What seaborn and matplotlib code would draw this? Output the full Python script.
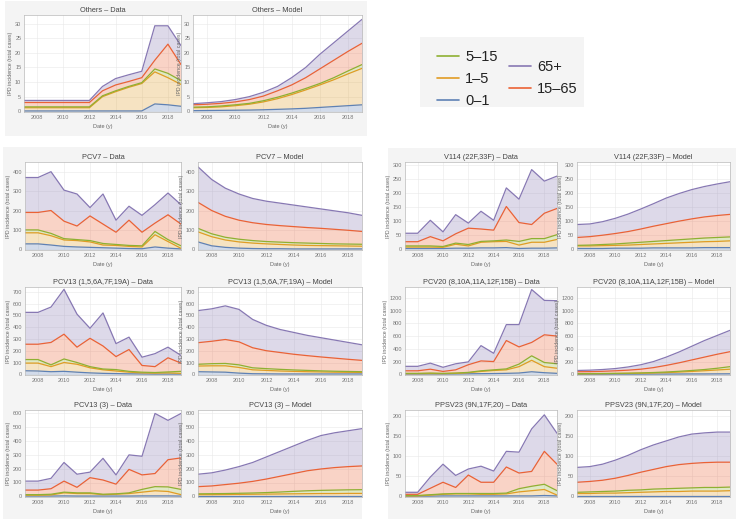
"""
IPD incidence by age group: data vs model, per serotype group.
Stacked (cumulative) lines per age group with light fills between them.
"""
import numpy as np
import pandas as pd
import matplotlib.pyplot as plt
import seaborn as sns
from matplotlib.patches import Rectangle
from matplotlib.lines import Line2D

sns.set_theme(style="whitegrid")
plt.rcParams['font.family'] = ['Liberation Sans', 'DejaVu Sans']

# --- data (cumulative levels of each age-group line, 2007..2019) ---
YEARS = list(range(2007, 2020))
AGE_GROUPS = ["0–1", "1–5", "5–15", "15–65", "65+"]
COLORS = ["#5E81B5", "#E19C24", "#8FB032", "#EB6235", "#8778B3"]

others_data = {
    "0–1": [0.1, 0.1, 0.1, 0.1, 0.1, 0.1, 0.1, 0.1, 0.1, 0.1, 2.5, 2.2, 1.7],
    "1–5": [1.2, 1.2, 1.2, 1.2, 1.2, 1.2, 5.0, 6.7, 8.2, 9.5, 13.5, 11.5, 9.2],
    "5–15": [1.5, 1.5, 1.5, 1.5, 1.5, 1.5, 5.3, 7.0, 8.5, 9.8, 14.5, 13.0, 10.5],
    "15–65": [3.0, 3.0, 3.0, 3.0, 3.0, 3.0, 7.0, 9.0, 10.2, 11.5, 17.5, 23.0, 16.0],
    "65+": [3.7, 3.7, 3.7, 3.7, 3.7, 3.7, 8.5, 11.2, 12.5, 13.7, 29.3, 29.3, 22.5],
}
others_model = {
    "0–1": [0.2, 0.25, 0.3, 0.35, 0.4, 0.5, 0.65, 0.8, 1.0, 1.3, 1.6, 1.9, 2.2],
    "1–5": [1.2, 1.3, 1.5, 1.9, 2.4, 3.2, 4.3, 5.7, 7.3, 9.0, 10.8, 12.8, 14.7],
    "5–15": [1.4, 1.5, 1.8, 2.2, 2.7, 3.6, 4.8, 6.2, 7.8, 9.5, 11.5, 13.8, 16.0],
    "15–65": [2.2, 2.4, 2.7, 3.2, 4.0, 5.2, 7.0, 9.0, 11.5, 14.5, 17.5, 20.5, 23.3],
    "65+": [2.6, 2.9, 3.3, 4.0, 5.0, 6.5, 8.5, 11.5, 15.0, 19.5, 23.5, 27.5, 31.5],
}
pcv7_data = {
    "0–1": [28, 28, 22, 15, 12, 10, 8, 6, 4, 3, 12, 6, 2],
    "1–5": [85, 85, 70, 48, 45, 38, 22, 20, 15, 12, 75, 40, 5],
    "5–15": [100, 100, 82, 55, 50, 45, 30, 25, 20, 18, 92, 50, 18],
    "15–65": [190, 190, 200, 145, 120, 172, 130, 88, 150, 88, 135, 178, 130],
    "65+": [370, 370, 400, 305, 285, 215, 285, 150, 222, 175, 230, 290, 230],
}
pcv7_model = {
    "0–1": [38, 18, 10, 6, 4, 3, 3, 2, 2, 2, 2, 2, 2],
    "1–5": [90, 65, 48, 38, 32, 28, 25, 22, 20, 19, 18, 17, 16],
    "5–15": [108, 80, 62, 52, 45, 40, 37, 34, 32, 30, 28, 27, 26],
    "15–65": [242, 200, 170, 150, 137, 128, 122, 117, 112, 108, 103, 98, 92],
    "65+": [425, 360, 315, 285, 262, 248, 238, 228, 218, 208, 198, 188, 175],
}
pcv13a_data = {
    "0–1": [30, 28, 22, 25, 18, 12, 8, 6, 4, 3, 2, 2, 2],
    "1–5": [95, 95, 65, 100, 85, 55, 38, 28, 18, 12, 10, 12, 8],
    "5–15": [125, 125, 80, 130, 100, 65, 45, 40, 25, 18, 15, 20, 25],
    "15–65": [255, 255, 270, 340, 230, 305, 240, 150, 210, 75, 65, 140, 95],
    "65+": [525, 525, 570, 720, 510, 390, 520, 260, 315, 145, 175, 230, 160],
}
pcv13a_model = {
    "0–1": [22, 20, 18, 10, 5, 4, 3, 3, 3, 3, 3, 3, 3],
    "1–5": [70, 72, 72, 58, 38, 33, 28, 25, 22, 20, 18, 17, 16],
    "5–15": [85, 90, 92, 80, 55, 48, 42, 37, 33, 29, 26, 24, 22],
    "15–65": [268, 280, 295, 275, 225, 200, 185, 170, 158, 147, 137, 127, 118],
    "65+": [540, 555, 580, 550, 465, 415, 380, 355, 330, 310, 290, 270, 250],
}
pcv13b_data = {
    "0–1": [2, 2, 2, 3, 2, 2, 2, 2, 2, 3, 3, 3, 2],
    "1–5": [8, 8, 10, 25, 20, 20, 12, 15, 20, 30, 40, 35, 12],
    "5–15": [12, 12, 15, 30, 25, 25, 15, 18, 25, 50, 70, 68, 50],
    "15–65": [45, 45, 55, 110, 65, 135, 118, 88, 195, 155, 165, 265, 278],
    "65+": [110, 110, 130, 245, 160, 175, 275, 155, 300, 290, 600, 550, 600],
}
pcv13b_model = {
    "0–1": [3, 3, 3, 3, 3, 3, 3, 3, 3, 3, 3, 3, 3],
    "1–5": [12, 12, 13, 14, 15, 16, 17, 18, 19, 20, 20, 21, 21],
    "5–15": [18, 19, 20, 22, 24, 27, 31, 36, 40, 43, 45, 47, 48],
    "15–65": [70, 75, 85, 95, 108, 125, 145, 165, 185, 198, 208, 215, 220],
    "65+": [160, 170, 190, 215, 245, 285, 325, 365, 405, 440, 460, 475, 490],
}
v114_data = {
    "0–1": [3, 3, 3, 3, 4, 4, 5, 5, 6, 3, 4, 4, 5],
    "1–5": [8, 8, 8, 7, 18, 12, 25, 27, 28, 15, 25, 25, 35],
    "5–15": [12, 12, 12, 10, 22, 17, 28, 30, 33, 28, 38, 38, 52],
    "15–65": [27, 27, 45, 30, 55, 75, 72, 68, 152, 95, 88, 128, 145],
    "65+": [57, 57, 103, 62, 123, 93, 135, 103, 218, 178, 283, 242, 260],
}
v114_model = {
    "0–1": [3, 3, 3, 4, 4, 4, 5, 5, 5, 5, 6, 6, 6],
    "1–5": [12, 12, 13, 14, 15, 17, 19, 21, 23, 25, 27, 28, 30],
    "5–15": [14, 15, 17, 19, 22, 25, 28, 31, 34, 37, 40, 42, 44],
    "15–65": [42, 45, 50, 56, 63, 72, 82, 91, 100, 108, 115, 120, 124],
    "65+": [88, 90, 98, 110, 125, 143, 162, 182, 198, 212, 223, 232, 240],
}
pcv20_data = {
    "0–1": [5, 5, 6, 5, 6, 8, 10, 12, 15, 20, 40, 25, 15],
    "1–5": [10, 10, 12, 10, 15, 25, 45, 60, 70, 120, 220, 120, 95],
    "5–15": [15, 15, 20, 15, 20, 30, 55, 70, 85, 160, 290, 185, 165],
    "15–65": [55, 55, 80, 45, 70, 150, 210, 200, 530, 430, 500, 620, 600],
    "65+": [125, 125, 175, 110, 165, 195, 450, 330, 780, 780, 1330, 1160, 1155],
}
pcv20_model = {
    "0–1": [2, 2, 2, 3, 3, 3, 4, 4, 5, 6, 6, 7, 8],
    "1–5": [8, 9, 10, 12, 14, 17, 21, 27, 35, 45, 56, 68, 80],
    "5–15": [10, 11, 13, 15, 18, 22, 28, 36, 47, 60, 75, 95, 120],
    "15–65": [40, 42, 47, 55, 65, 80, 105, 140, 180, 225, 270, 315, 355],
    "65+": [60, 65, 75, 90, 115, 150, 200, 270, 350, 440, 530, 610, 690],
}
ppsv23_data = {
    "0–1": [0.5, 0.5, 0.5, 1, 1, 1, 1, 1, 1, 1, 1, 2, 1],
    "1–5": [1, 1, 3, 5, 6, 6, 5, 5, 6, 11, 14, 17, 3],
    "5–15": [2, 2, 4, 6, 7, 7, 7, 7, 8, 19, 25, 30, 14],
    "15–65": [5, 5, 20, 35, 22, 53, 35, 35, 73, 58, 62, 112, 80],
    "65+": [10, 10, 48, 80, 52, 68, 75, 63, 112, 110, 168, 203, 157],
}
ppsv23_model = {
    "0–1": [2, 2, 2, 2, 2, 2, 2, 2, 2, 2, 2, 2, 2],
    "1–5": [7, 7, 8, 8, 9, 10, 11, 12, 12, 13, 13, 13, 14],
    "5–15": [10, 11, 12, 13, 15, 16, 18, 19, 20, 21, 22, 22, 23],
    "15–65": [35, 37, 40, 45, 52, 60, 67, 74, 79, 82, 84, 85, 85],
    "65+": [72, 74, 80, 90, 102, 116, 128, 138, 148, 155, 158, 160, 160],
}

# --- layout (pixels of a 736x519 canvas) ---
W, H = 736, 519


def rect(x0, y0, x1, y1):
    return [x0 / W, 1 - y1 / H, (x1 - x0) / W, (y1 - y0) / H]


ROWS = [(162, 250), (287, 375), (410, 497)]
LEFT_COLS = [(25, 181), (198, 362)]
RIGHT_COLS = [(405, 557), (577, 730)]

PANELS = [
    (rect(24, 15, 181, 112), "Others – Data", others_data, 5, 33),
    (rect(193, 15, 362, 112), "Others – Model", others_model, 5, 33),
]
left_specs = [("PCV7", pcv7_data, pcv7_model, 100, 450),
              ("PCV13 (1,5,6A,7F,19A)", pcv13a_data, pcv13a_model, 100, 740),
              ("PCV13 (3)", pcv13b_data, pcv13b_model, 100, 625)]
right_specs = [("V114 (22F,33F)", v114_data, v114_model, 50, 310),
               ("PCV20 (8,10A,11A,12F,15B)", pcv20_data, pcv20_model, 200, 1370),
               ("PPSV23 (9N,17F,20)", ppsv23_data, ppsv23_model, 50, 215)]
for cols, specs in [(LEFT_COLS, left_specs), (RIGHT_COLS, right_specs)]:
    for (y0, y1), (name, d, m, step, top) in zip(ROWS, specs):
        PANELS.append((rect(cols[0][0], y0, cols[0][1], y1), f"{name} – Data", d, step, top))
        PANELS.append((rect(cols[1][0], y0, cols[1][1], y1), f"{name} – Model", m, step, top))


def draw_panel(ax, title, series, step, top):
    df = pd.DataFrame(series, index=YEARS).reset_index(names="year")
    long = df.melt(id_vars="year", var_name="group", value_name="cases")
    lower = np.zeros(len(YEARS))
    for grp, col in zip(AGE_GROUPS, COLORS):
        upper = np.asarray(series[grp], dtype=float)
        ax.fill_between(YEARS, lower, upper, color=col, alpha=0.28, lw=0)
        lower = upper
    sns.lineplot(data=long, x="year", y="cases", hue="group", hue_order=AGE_GROUPS,
                 palette=COLORS, ax=ax, legend=False, linewidth=0.9)
    ax.set_xlim(2007, 2019)
    ax.set_ylim(-top * 0.008, top)
    ax.set_xticks(range(2008, 2019, 2))
    ax.set_yticks(np.arange(0, top, step))
    ax.set_title(title, fontsize=5.3, color="#444444", pad=2)
    ax.set_xlabel("Date (y)", fontsize=4, color="#666666", labelpad=3)
    ax.set_ylabel("IPD incidence (total cases)", fontsize=3.8, color="#666666", labelpad=1.5)
    ax.tick_params(labelsize=4, labelcolor="#777777", length=1.5, width=0.4,
                   color="#aaaaaa", direction="in", pad=2)
    ax.grid(True, color="#e8e8e8", lw=0.4)
    ax.set_facecolor("white")
    for s in ax.spines.values():
        s.set_color("#b8b8b8")
        s.set_linewidth(0.5)


fig = plt.figure(figsize=(W / 100, H / 100), dpi=100)
fig.patch.set_facecolor("white")

# light grey blocks behind the three panel groups and the legend
for x0, y0, x1, y1 in [(5, 1, 367, 136), (3, 147, 362, 519), (388, 148, 736, 519), (420, 37, 584, 107)]:
    fig.patches.append(Rectangle((x0 / W, 1 - y1 / H), (x1 - x0) / W, (y1 - y0) / H,
                                 transform=fig.transFigure, facecolor="#f4f4f4",
                                 edgecolor="none", zorder=-5))

for pos, title, series, step, top in PANELS:
    ax = fig.add_axes(pos)
    ax.set_zorder(1)
    draw_panel(ax, title, series, step, top)

# legend in two columns like the original
handles = {g: Line2D([], [], color=c, lw=1.2) for g, c in zip(AGE_GROUPS, COLORS)}
leg_kw = dict(loc="upper left", frameon=False, fontsize=10.5, handlelength=1.5,
              labelspacing=0.55, handletextpad=0.4, borderpad=0)
leg1 = fig.legend([handles[g] for g in ["5–15", "1–5", "0–1"]], ["5–15", "1–5", "0–1"],
                  bbox_to_anchor=(430 / W, 1 - 43 / H), **leg_kw)
leg2 = fig.legend([handles[g] for g in ["65+", "15–65"]], ["65+", "15–65"],
                  bbox_to_anchor=(502 / W, 1 - 53 / H), **leg_kw)
for leg in (leg1, leg2):
    leg.set_zorder(2)
    for t in leg.get_texts():
        t.set_color("#222222")

fig.savefig("out.png", dpi=100)
